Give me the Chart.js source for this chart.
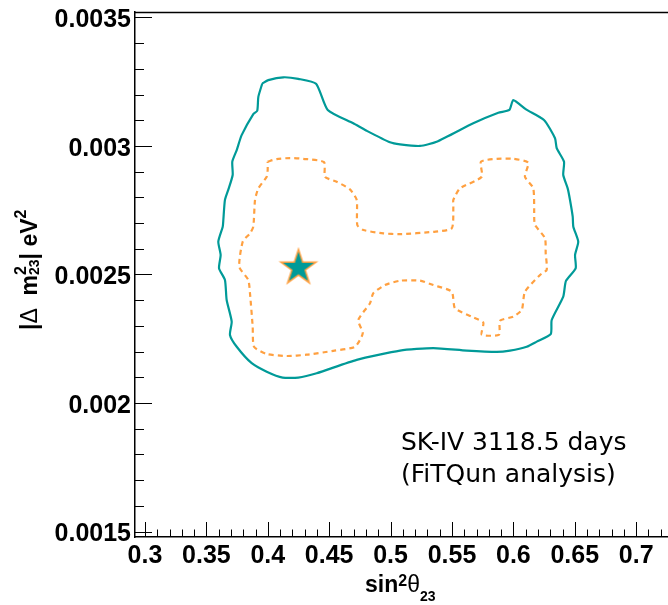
<!DOCTYPE html>
<html>
<head>
<meta charset="utf-8">
<script src="https://cdn.jsdelivr.net/npm/chart.js@4.4.0/dist/chart.umd.min.js"></script>
<style>
  html, body { margin: 0; padding: 0; background: #fff; overflow: hidden; }
  canvas { display: block; }
</style>
</head>
<body>
<canvas id="contourChart" width="668" height="605"></canvas>
<script>
// outer contour (solid teal)
const tealX = [0.3955,0.4004,0.4126,0.4248,0.4393,0.4488,0.4696,0.4805,0.4995,0.5077,0.5239,0.5375,0.5673,0.5877,0.5967,0.5999,0.6103,0.6249,0.6339,0.6353,0.6412,0.6406,0.6442,0.6461,0.6483,0.6488,0.6528,0.6502,0.6507,0.6428,0.6406,0.6312,0.6304,0.6190,0.6108,0.5972,0.5864,0.5620,0.5348,0.5077,0.4724,0.4398,0.4248,0.4121,0.3991,0.3869,0.3747,0.3692,0.3706,0.3665,0.3651,0.3603,0.3616,0.3597,0.3633,0.3638,0.3651,0.3678,0.3714,0.3711,0.3747,0.3787,0.3882,0.3914,0.3923,0.3955];
const tealY = [0.003243,0.003256,0.003267,0.003261,0.003242,0.003140,0.003088,0.003059,0.003014,0.003006,0.003000,0.003016,0.003088,0.003129,0.003140,0.003178,0.003142,0.003101,0.003030,0.002991,0.002939,0.002887,0.002835,0.002790,0.002725,0.002686,0.002628,0.002576,0.002524,0.002475,0.002414,0.002323,0.002268,0.002239,0.002219,0.002204,0.002199,0.002204,0.002214,0.002204,0.002168,0.002116,0.002099,0.002099,0.002122,0.002155,0.002219,0.002265,0.002317,0.002401,0.002479,0.002524,0.002576,0.002628,0.002686,0.002712,0.002790,0.002829,0.002887,0.002939,0.002984,0.003042,0.003124,0.003137,0.003191,0.003243];

// inner contour (dashed orange)
const orangeX = [0.3999,0.4072,0.4181,0.4289,0.4458,0.4466,0.4561,0.4669,0.4724,0.4729,0.4778,0.4941,0.5077,0.5348,0.5498,0.5511,0.5511,0.5565,0.5742,0.5736,0.5864,0.5999,0.6121,0.6094,0.6162,0.6170,0.6176,0.6257,0.6263,0.6271,0.6217,0.6094,0.6068,0.5999,0.5891,0.5883,0.5742,0.5755,0.5660,0.5524,0.5498,0.5348,0.5239,0.5077,0.4954,0.4859,0.4832,0.4737,0.4773,0.4710,0.4533,0.4317,0.4154,0.3991,0.3888,0.3877,0.3855,0.3841,0.3768,0.3796,0.3855,0.3882,0.3896,0.3923,0.3991,0.3999,0.3999];
const orangeY = [0.002939,0.002949,0.002953,0.002950,0.002937,0.002880,0.002861,0.002831,0.002790,0.002692,0.002673,0.002660,0.002657,0.002666,0.002680,0.002764,0.002790,0.002835,0.002880,0.002939,0.002950,0.002950,0.002935,0.002880,0.002835,0.002712,0.002692,0.002641,0.002582,0.002518,0.002498,0.002433,0.002362,0.002336,0.002320,0.002266,0.002266,0.002313,0.002336,0.002369,0.002433,0.002459,0.002476,0.002476,0.002459,0.002427,0.002388,0.002323,0.002271,0.002219,0.002203,0.002188,0.002183,0.002191,0.002219,0.002297,0.002427,0.002479,0.002530,0.002628,0.002660,0.002686,0.002790,0.002835,0.002880,0.002906,0.002939];

// best fit point
const bestX = [0.425];
const bestY = [0.002526];

const xTicks = [0.3, 0.35, 0.4, 0.45, 0.5, 0.55, 0.6, 0.65, 0.7];
const yTicks = [0.0015, 0.002, 0.0025, 0.003, 0.0035];
const noteLines = ['SK-IV 3118.5 days', '(FiTQun analysis)'];

const TEAL = '#009a98';
const ORANGE = '#ffa040';

function toPoints(xs, ys) {
  return xs.map((x, i) => ({ x: x, y: ys[i] }));
}

// star marker as a canvas image
function makeStar() {
  const c = document.createElement('canvas');
  c.width = 42; c.height = 42;
  const g = c.getContext('2d');
  const R = 18.5, r = 7.1, cx = 21, cy = 21;
  g.beginPath();
  for (let i = 0; i < 10; i++) {
    const rad = i % 2 === 0 ? R : r;
    const a = -Math.PI / 2 + i * Math.PI / 5;
    g.lineTo(cx + rad * Math.cos(a), cy + rad * Math.sin(a));
  }
  g.closePath();
  g.fillStyle = TEAL;
  g.fill();
  g.lineWidth = 1.5;
  g.strokeStyle = ORANGE;
  g.stroke();
  return c;
}

// draws a run of text pieces, with optional sup/sub stacks
function drawRuns(ctx, x0, y0, runs) {
  let x = x0;
  runs.forEach(r => {
    if (r.t !== undefined) {
      ctx.font = r.f;
      ctx.fillText(r.t, x, y0 + (r.dy || 0));
      x += ctx.measureText(r.t).width;
    } else {
      let w = 0;
      if (r.sup) {
        ctx.font = r.supF;
        ctx.fillText(r.sup, x, y0 + r.supDy);
        w = Math.max(w, ctx.measureText(r.sup).width);
      }
      if (r.sub) {
        ctx.font = r.subF;
        ctx.fillText(r.sub, x, y0 + r.subDy);
        w = Math.max(w, ctx.measureText(r.sub).width);
      }
      x += w;
    }
  });
}

const SANS = '"Liberation Sans", Arial, Helvetica, sans-serif';

const frame = {
  id: 'frame',
  afterDraw(chart) {
    const ctx = chart.ctx;
    const a = chart.chartArea;
    const xs = chart.scales.x, ys = chart.scales.y;
    ctx.save();
    ctx.strokeStyle = '#000';

    // top line
    ctx.lineWidth = 1.5;
    ctx.beginPath();
    ctx.moveTo(a.left, a.top + 0.5);
    ctx.lineTo(a.right, a.top + 0.5);
    ctx.stroke();

    // inward ticks
    ctx.lineWidth = 1;
    ctx.beginPath();
    for (let i = 30; i <= 72; i++) {
      const px = Math.round(xs.getPixelForValue(i / 100)) + 0.5;
      const len = i % 5 === 0 ? 15 : 7.5;
      ctx.moveTo(px, a.bottom);
      ctx.lineTo(px, a.bottom - len);
    }
    for (let i = 15; i <= 35; i++) {
      const py = Math.round(ys.getPixelForValue(i / 10000)) + 0.5;
      const len = i % 5 === 0 ? 17 : 9;
      ctx.moveTo(a.left, py);
      ctx.lineTo(a.left + len, py);
    }
    ctx.stroke();

    ctx.fillStyle = '#000';
    ctx.textBaseline = 'alphabetic';
    ctx.textAlign = 'left';

    // x title: sin^2 theta_23
    drawRuns(ctx, 365, 592, [
      { t: 'sin', f: 'bold 23px ' + SANS },
      { sup: '2', supF: 'bold 16px ' + SANS, supDy: -6 },
      { t: '\u03b8', f: '23px ' + SANS },
      { sub: '23', subF: 'bold 14px ' + SANS, subDy: 9 }
    ]);

    // y title: |Delta m^2_23| eV^2
    ctx.save();
    ctx.translate(37, 330);
    ctx.rotate(-Math.PI / 2);
    drawRuns(ctx, 0, 0, [
      { t: '|', f: 'bold 23px ' + SANS },
      { t: '\u0394', f: '23px ' + SANS },
      { t: '  m', f: 'bold 23px ' + SANS },
      { sup: '2', supF: 'bold 16px ' + SANS, supDy: -11, sub: '23', subF: 'bold 14px ' + SANS, subDy: 2 },
      { t: '| eV', f: 'bold 23px ' + SANS },
      { sup: '2', supF: 'bold 16px ' + SANS, supDy: -11 }
    ]);
    ctx.restore();

    // annotation
    ctx.font = '25px "DejaVu Sans", Verdana, sans-serif';
    noteLines.forEach((line, i) => {
      ctx.fillText(line, 401, 450 + i * 32);
    });
    ctx.restore();
  }
};

function noPad(s) {
  s.paddingLeft = 0; s.paddingRight = 0;
  s.paddingTop = 0; s.paddingBottom = 0;
}

const ctx = document.getElementById('contourChart').getContext('2d');
new Chart(ctx, {
  type: 'scatter',
  data: {
    datasets: [
      {
        label: '90% C.L.',
        data: toPoints(tealX, tealY),
        showLine: true,
        borderColor: TEAL,
        borderWidth: 2.2,
        pointRadius: 0,
        fill: false,
        tension: 0.2
      },
      {
        label: '68% C.L.',
        data: toPoints(orangeX, orangeY),
        showLine: true,
        borderColor: ORANGE,
        borderWidth: 2.2,
        borderDash: [5, 4],
        pointRadius: 0,
        fill: false,
        tension: 0.2
      },
      {
        label: 'Best fit',
        data: toPoints(bestX, bestY),
        pointStyle: makeStar(),
        pointRadius: 18
      }
    ]
  },
  options: {
    responsive: false,
    animation: false,
    devicePixelRatio: 1,
    layout: { autoPadding: false, padding: { top: 12, right: 0, bottom: 0, left: 0 } },
    plugins: { legend: { display: false }, tooltip: { enabled: false } },
    scales: {
      x: {
        type: 'linear',
        min: 0.29186,
        max: 0.7259,
        grid: { display: false, drawTicks: false },
        border: { display: true, color: '#000', width: 1.5 },
        afterBuildTicks: s => { s.ticks = xTicks.map(v => ({ value: v })); },
        afterFit: s => { s.height = 68; noPad(s); },
        ticks: {
          color: '#000',
          padding: 7,
          maxRotation: 0,
          font: { family: SANS, size: 25, weight: 'bold', lineHeight: 1 },
          callback: v => String(+v.toFixed(2))
        }
      },
      y: {
        type: 'linear',
        min: 0.001479,
        max: 0.003521,
        grid: { display: false, drawTicks: false },
        border: { display: true, color: '#000', width: 1.5 },
        afterBuildTicks: s => { s.ticks = yTicks.map(v => ({ value: v })); },
        afterFit: s => { s.width = 135; noPad(s); },
        ticks: {
          color: '#000',
          padding: 4,
          labelOffset: 3,
          font: { family: SANS, size: 25, weight: 'bold', lineHeight: 1 },
          callback: v => String(+v.toFixed(4))
        }
      }
    }
  },
  plugins: [frame]
});
</script>
</body>
</html>
